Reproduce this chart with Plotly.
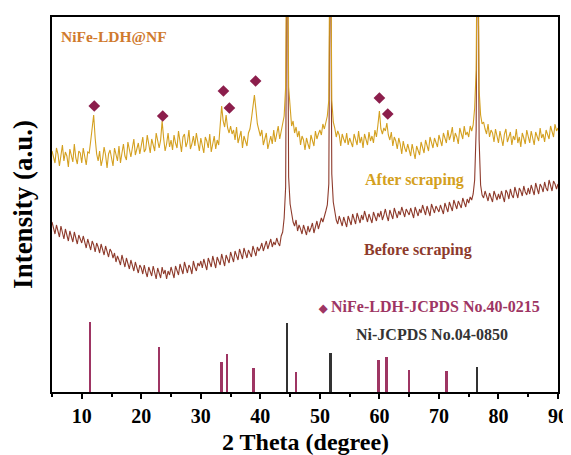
import numpy as np
import plotly.graph_objects as go

# 2-theta grid (0.25 deg step, 5..90)
two_theta = np.round(np.arange(5.0, 90.0001, 0.25), 2)

# After scraping (gold) intensity (arb. units)
after_scraping = [
    241, 233, 229, 244, 238, 226, 235, 247, 231, 240, 236, 225, 243, 237, 230, 248, 234, 228, 241, 239,
    229, 244, 235, 227, 240, 239, 251, 268, 277, 254, 238, 231, 241, 226, 233, 245, 237, 224, 238, 242,
    233, 226, 244, 238, 231, 246, 229, 239, 248, 236, 232, 250, 241, 235, 244, 253, 237, 243, 249, 238,
    246, 255, 240, 243, 257, 248, 239, 253, 246, 241, 259, 250, 244, 252, 271, 254, 241, 248, 259, 245,
    252, 242, 257, 249, 244, 261, 251, 240, 255, 258, 245, 250, 262, 243, 248, 256, 246, 259, 250, 241,
    254, 247, 239, 255, 251, 244, 258, 240, 249, 256, 243, 252, 247, 265, 286, 271, 265, 277, 264, 259,
    266, 258, 262, 252, 265, 249, 255, 261, 244, 256, 251, 246, 259, 263, 273, 288, 297, 283, 268, 262,
    256, 262, 247, 253, 259, 243, 251, 256, 248, 262, 250, 257, 266, 253, 262, 269, 276, 305, 520, 305,
    280, 266, 271, 259, 265, 255, 261, 247, 256, 252, 242, 254, 248, 243, 257, 251, 246, 261, 253, 258,
    262, 257, 268, 263, 271, 276, 292, 520, 292, 270, 264, 255, 261, 257, 246, 258, 253, 249, 259, 247,
    254, 250, 245, 258, 252, 247, 261, 249, 255, 244, 258, 253, 247, 260, 251, 256, 249, 262, 255, 267,
    281, 263, 258, 264, 261, 269, 257, 252, 260, 246, 255, 251, 243, 254, 248, 238, 251, 244, 240, 248,
    241, 236, 248, 239, 233, 246, 242, 237, 250, 244, 239, 252, 247, 241, 255, 248, 244, 254, 250, 245,
    257, 250, 246, 259, 254, 249, 262, 252, 257, 265, 250, 259, 255, 248, 264, 258, 253, 266, 257, 260,
    255, 266, 261, 267, 284, 322, 520, 302, 277, 268, 270, 263, 258, 268, 255, 262, 259, 250, 263, 256,
    249, 261, 255, 246, 258, 263, 250, 254, 260, 247, 256, 252, 263, 249, 255, 245, 259, 254, 248, 262,
    255, 249, 261, 253, 247, 260, 256, 251, 264, 254, 258, 250, 262, 257, 253, 266, 259, 255, 268, 261,
    264,
]

# Before scraping (brown) intensity
before_scraping = [
    170, 165, 158, 167, 162, 155, 166, 160, 153, 163, 158, 151, 161, 156, 150, 160, 154, 148, 157, 153,
    149, 156, 151, 144, 153, 148, 142, 151, 147, 140, 149, 145, 139, 148, 143, 137, 146, 141, 135, 143,
    140, 134, 139, 130, 136, 132, 127, 137, 131, 125, 134, 129, 123, 132, 127, 121, 130, 125, 119, 127,
    124, 118, 127, 120, 115, 125, 121, 116, 126, 119, 113, 124, 120, 114, 125, 118, 122, 113, 121, 117,
    125, 119, 114, 126, 121, 117, 128, 122, 118, 130, 123, 119, 127, 124, 118, 131, 125, 121, 129, 126,
    131, 124, 133, 128, 122, 134, 129, 125, 136, 130, 124, 135, 131, 127, 138, 132, 126, 137, 133, 129,
    140, 134, 130, 141, 136, 132, 143, 137, 133, 144, 139, 134, 142, 138, 135, 146, 140, 136, 145, 141,
    144, 149, 141, 147, 151, 143, 148, 153, 145, 150, 147, 154, 149, 146, 156, 160, 174, 205, 520, 215,
    188, 178, 170, 166, 172, 161, 167, 163, 158, 167, 162, 157, 166, 160, 164, 169, 159, 167, 171, 163,
    168, 174, 170, 177, 181, 187, 208, 520, 218, 190, 178, 172, 168, 176, 171, 166, 175, 170, 165, 176,
    172, 167, 178, 173, 168, 179, 174, 169, 177, 172, 181, 175, 170, 178, 174, 169, 180, 176, 171, 179,
    175, 181, 172, 177, 183, 176, 171, 182, 178, 173, 184, 179, 174, 181, 177, 185, 180, 175, 183, 179,
    177, 184, 180, 174, 185, 181, 176, 183, 179, 187, 182, 177, 186, 181, 176, 188, 183, 179, 186, 182,
    180, 187, 183, 178, 189, 184, 180, 190, 186, 181, 192, 187, 183, 191, 188, 184, 194, 189, 185, 193,
    189, 195, 192, 198, 212, 262, 520, 252, 207, 197, 194, 201, 196, 191, 199, 195, 190, 201, 196, 192,
    198, 193, 201, 196, 190, 202, 199, 193, 203, 197, 194, 205, 199, 194, 204, 201, 196, 206, 200, 197,
    204, 198, 207, 201, 197, 209, 203, 198, 208, 205, 200, 210, 204, 201, 212, 206, 201, 211, 208, 203,
    208,
]

# Reference patterns (stick positions / relative heights)
ldh_ref_pos = [11.4, 23.0, 33.5, 34.4, 38.9, 46.0, 59.9, 61.2, 65.0, 71.3]
ldh_ref_h = [70, 45, 30, 38, 24, 20, 32, 35, 22, 21]
ni_ref_pos = [44.5, 51.8, 76.4]
ni_ref_h = [69, 39, 25]

# Diamond markers for LDH peaks
mark_x = [12.1, 23.6, 33.8, 34.8, 39.2, 60.0, 61.4]
mark_y = [286, 276, 301, 284, 311, 294, 278]

GOLD = "#D4A020"
BROWN = "#8E3B2C"
MAROON = "#9E3563"
DIAMOND = "#8C1E4C"
FONT = "Liberation Serif"

fig = go.Figure()
fig.add_trace(go.Bar(x=ldh_ref_pos, y=ldh_ref_h, width=0.33, marker=dict(color=MAROON, line=dict(width=0)),
                     showlegend=False))
fig.add_trace(go.Bar(x=ni_ref_pos, y=ni_ref_h, width=0.33, marker=dict(color="#333333", line=dict(width=0)),
                     showlegend=False))
fig.add_trace(go.Scatter(x=two_theta, y=before_scraping, mode="lines", line=dict(color=BROWN, width=1.1),
                         showlegend=False))
fig.add_trace(go.Scatter(x=two_theta, y=after_scraping, mode="lines", line=dict(color=GOLD, width=1.1),
                         showlegend=False))
fig.add_trace(go.Scatter(x=mark_x, y=mark_y, mode="markers",
                         marker=dict(symbol="diamond", size=9, color=DIAMOND), showlegend=False))

def txt(x, y, s, color, size, anchor="center"):
    fig.add_annotation(x=x, y=y, text=s, showarrow=False, xanchor=anchor, yanchor="middle",
                       font=dict(family=FONT, size=size, color=color, weight="bold"))

txt(6.2, 356, "NiFe-LDH@NF", "#D07A2E", 15.5, "left")
txt(65.9, 212, "After scraping", GOLD, 16)
txt(66.4, 142, "Before scraping", BROWN, 16)
txt(68.4, 86, "<span style='font-size:11px'>◆</span> NiFe-LDH-JCPDS No.40-0215", MAROON, 16)
txt(68.9, 58, "Ni-JCPDS No.04-0850", "#333333", 16)

# x-axis title placed just below the tick labels
fig.add_annotation(x=0.5, y=-0.1333, xref="paper", yref="paper", text="2 Theta (degree)",
                   showarrow=False, xanchor="center", yanchor="middle",
                   font=dict(family=FONT, size=24, weight="bold", color="black"))

# page body has an 8px margin: figure sized to fit the 571x455 window
fig.update_layout(
    width=563, height=447,
    margin=dict(l=44, r=13, t=9, b=63),
    plot_bgcolor="white", paper_bgcolor="white",
    bargap=0,
    font=dict(family=FONT, color="black"),
)
fig.update_xaxes(
    range=[5, 90], dtick=10, tick0=0, ticks="outside", ticklen=5, tickwidth=2, tickcolor="black",
    minor=dict(dtick=5, tick0=0, ticks="outside", ticklen=3, tickwidth=2, tickcolor="black"),
    showline=True, linewidth=2, linecolor="black", mirror=True, showgrid=False, zeroline=False,
    tickfont=dict(family=FONT, size=20, weight="bold", color="black"), ticklabelstandoff=0,
    automargin=False,
)
fig.update_yaxes(
    range=[0, 375], showticklabels=False, ticks="", showgrid=False, zeroline=False,
    showline=True, linewidth=2, linecolor="black", mirror=True, automargin=False,
    title=dict(text="Intensity (a.u.)", font=dict(family=FONT, size=27, weight="bold", color="black"),
               standoff=10),
)

fig.write_html("out.html")
